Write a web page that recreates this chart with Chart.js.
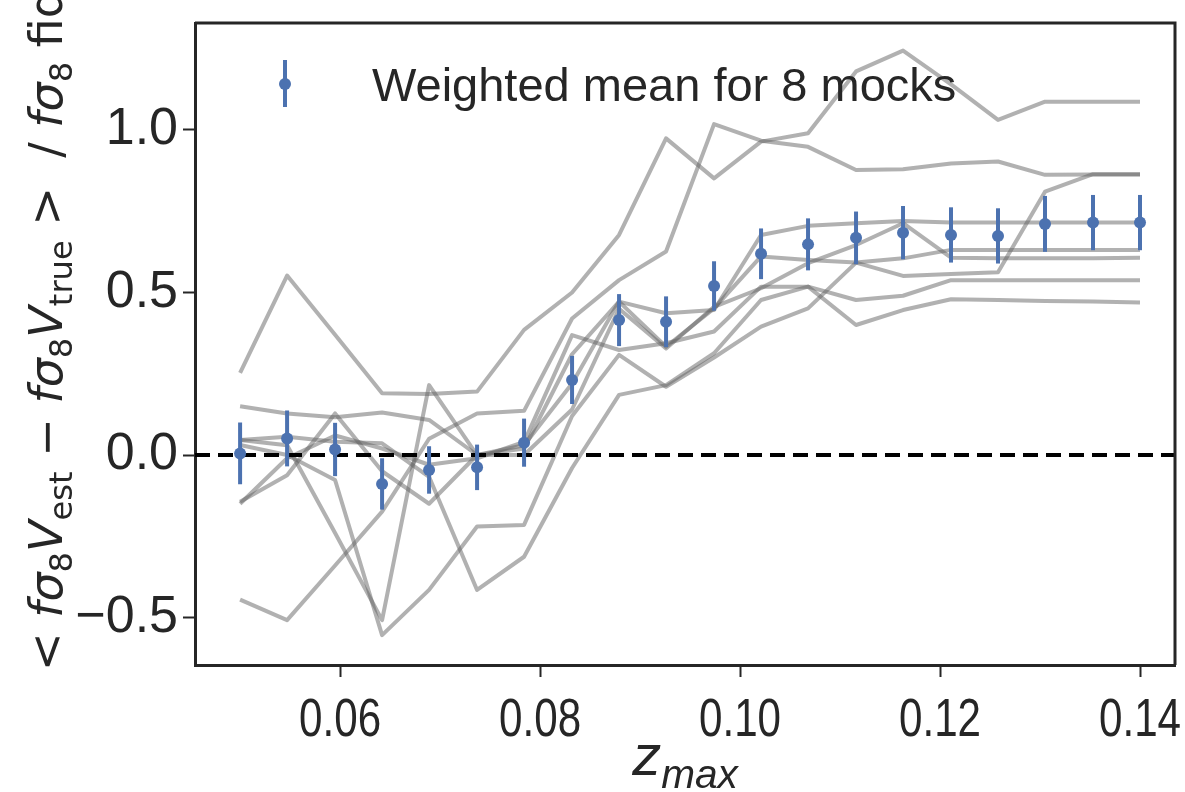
<!DOCTYPE html>
<html>
<head>
<meta charset="utf-8">
<script src="https://cdn.jsdelivr.net/npm/chart.js@4.4.0/dist/chart.umd.min.js"></script>
<style>
  html, body { margin: 0; padding: 0; background: #fff; }
  #wrap { width: 1185px; height: 792px; position: relative; }
</style>
</head>
<body>
<div id="wrap"><canvas id="chart"></canvas></div>
<script>
// z_max cuts
const zMax = [0.0500, 0.0547, 0.0595, 0.0642, 0.0689, 0.0737, 0.0784, 0.0832, 0.0879, 0.0926,
              0.0974, 0.1021, 0.1068, 0.1116, 0.1163, 0.1211, 0.1258, 0.1305, 0.1353, 0.1400];

// one curve per mock (grey lines)
const mock1 = [0.253, 0.552, 0.37, 0.19, 0.188, 0.195, 0.385, 0.50, 0.677, 0.974, 0.851, 0.964, 0.99, 1.18, 1.244, 1.14, 1.031, 1.087, 1.087, 1.087];
const mock2 = [0.15, 0.128, 0.116, 0.131, 0.108, 0.0, 0.02, 0.31, 0.472, 0.436, 0.446, 0.677, 0.705, 0.713, 0.72, 0.715, 0.715, 0.715, 0.715, 0.715];
const mock3 = [0.046, 0.03, -0.24, -0.508, 0.215, 0.0, 0.03, 0.22, 0.472, 0.333, 0.451, 0.611, 0.6, 0.592, 0.551, 0.557, 0.562, 0.81, 0.864, 0.864];
const mock4 = [-0.144, -0.062, 0.128, -0.05, -0.15, 0.0, 0.0, 0.14, 0.45, 0.328, 0.456, 0.513, 0.59, 0.646, 0.713, 0.607, 0.605, 0.605, 0.605, 0.607];
const mock5 = [-0.445, -0.508, -0.34, -0.174, 0.05, 0.128, 0.136, 0.42, 0.538, 0.626, 1.018, 0.967, 0.948, 0.877, 0.879, 0.897, 0.903, 0.862, 0.863, 0.863];
const mock6 = [0.031, 0.0, -0.077, -0.554, -0.415, -0.22, -0.215, 0.12, 0.308, 0.21, 0.3, 0.395, 0.451, 0.592, 0.605, 0.631, 0.631, 0.631, 0.631, 0.631];
const mock7 = [0.046, 0.056, 0.041, 0.036, -0.067, -0.415, -0.313, -0.04, 0.185, 0.215, 0.313, 0.477, 0.518, 0.4, 0.446, 0.479, 0.477, 0.474, 0.472, 0.469];
const mock8 = [-0.15, -0.01, 0.06, 0.02, -0.03, -0.01, 0.04, 0.369, 0.323, 0.344, 0.38, 0.518, 0.518, 0.477, 0.49, 0.538, 0.538, 0.538, 0.538, 0.538];
const mocks = [mock1, mock2, mock3, mock4, mock5, mock6, mock7, mock8];

// weighted mean and its error
const meanVals = [0.005, 0.051, 0.017, -0.089, -0.046, -0.038, 0.038, 0.231, 0.415, 0.41,
                  0.52, 0.619, 0.648, 0.668, 0.684, 0.677, 0.674, 0.711, 0.715, 0.715];
const meanErr = [0.095, 0.086, 0.082, 0.079, 0.073, 0.07, 0.074, 0.074, 0.08, 0.078,
                 0.076, 0.078, 0.08, 0.081, 0.082, 0.085, 0.085, 0.086, 0.085, 0.085];

const xTicks = [0.06, 0.08, 0.10, 0.12, 0.14];
const yTicks = [-0.5, 0.0, 0.5, 1.0];
const legendLabel = 'Weighted mean for 8 mocks';

const INK = '#262626';
const BLUE = '#4c72b0';
const GREY = 'rgba(100,100,100,0.5)';
const SANS = "'Liberation Sans', Arial, sans-serif";

// text runs with italic / subscript pieces, drawn from x0 on the current baseline
function richWidth(ctx, parts, size, fam) {
  let w = 0;
  parts.forEach(p => {
    const s = p.sub ? size * 0.7 : size;
    ctx.font = (p.it ? 'italic ' : '') + s + 'px ' + fam;
    w += ctx.measureText(p.t).width;
  });
  return w;
}
function drawRich(ctx, parts, size, fam, x0) {
  let x = x0;
  parts.forEach(p => {
    const s = p.sub ? size * 0.7 : size;
    ctx.font = (p.it ? 'italic ' : '') + s + 'px ' + fam;
    ctx.fillText(p.t, x, p.sub ? size * 0.22 : 0);
    x += ctx.measureText(p.t).width;
  });
}

const yTitle = [
  {t: '< '}, {t: 'fσ', it: true}, {t: '8', sub: true}, {t: 'V', it: true}, {t: 'est', sub: true},
  {t: ' − '}, {t: 'fσ', it: true}, {t: '8', sub: true}, {t: 'V', it: true}, {t: 'true', sub: true},
  {t: ' >  / '}, {t: 'fσ', it: true}, {t: '8', sub: true}, {t: ' fid'}
];
const xTitle = [{t: 'z', it: true}, {t: 'max', it: true, sub: true}];

const meanIndex = mocks.length;

const decorations = {
  id: 'decorations',
  beforeDatasetDraw(chart, args) {
    if (args.index !== meanIndex) return;
    const {ctx, chartArea, scales: {x, y}} = chart;
    ctx.save();
    // dashed zero line
    ctx.strokeStyle = '#000';
    ctx.lineWidth = 4;
    ctx.setLineDash([15, 8]);
    const y0 = y.getPixelForValue(0);
    ctx.beginPath();
    ctx.moveTo(chartArea.left, y0);
    ctx.lineTo(chartArea.right, y0);
    ctx.stroke();
    ctx.setLineDash([]);
    // error bars
    ctx.strokeStyle = BLUE;
    ctx.lineWidth = 4;
    zMax.forEach((z, i) => {
      const px = x.getPixelForValue(z);
      ctx.beginPath();
      ctx.moveTo(px, y.getPixelForValue(meanVals[i] - meanErr[i]));
      ctx.lineTo(px, y.getPixelForValue(meanVals[i] + meanErr[i]));
      ctx.stroke();
    });
    ctx.restore();
  },
  afterDraw(chart) {
    const {ctx, chartArea, scales: {x}} = chart;
    ctx.save();
    // top and right frame
    ctx.strokeStyle = INK;
    ctx.lineWidth = 3;
    ctx.beginPath();
    ctx.moveTo(chartArea.left, chartArea.top);
    ctx.lineTo(chartArea.right, chartArea.top);
    ctx.lineTo(chartArea.right, chartArea.bottom);
    ctx.stroke();

    // legend
    ctx.strokeStyle = BLUE;
    ctx.lineWidth = 4;
    ctx.beginPath();
    ctx.moveTo(285, 60);
    ctx.lineTo(285, 107);
    ctx.stroke();
    ctx.fillStyle = BLUE;
    ctx.beginPath();
    ctx.arc(285, 84, 6, 0, Math.PI * 2);
    ctx.fill();
    ctx.fillStyle = INK;
    ctx.textBaseline = 'alphabetic';
    ctx.textAlign = 'left';
    ctx.font = '47px ' + SANS;
    ctx.fillText(legendLabel, 372, 101);

    // x tick labels (condensed, as in the original)
    ctx.textAlign = 'center';
    ctx.font = '54px ' + SANS;
    x.ticks.forEach(t => {
      ctx.save();
      ctx.translate(x.getPixelForValue(t.value), 736);
      ctx.scale(0.78, 1);
      ctx.fillText(t.value.toFixed(2), 0, 0);
      ctx.restore();
    });
    ctx.textAlign = 'left';

    // x title
    const wx = richWidth(ctx, xTitle, 58, SANS);
    ctx.translate((chartArea.left + chartArea.right) / 2 - wx / 2, 775);
    drawRich(ctx, xTitle, 58, SANS, 0);
    ctx.restore();

    // y title
    ctx.save();
    ctx.fillStyle = INK;
    ctx.textBaseline = 'alphabetic';
    const fy = "'DejaVu Sans', sans-serif";
    const wy = richWidth(ctx, yTitle, 46, fy);
    ctx.translate(62, 330);
    ctx.rotate(-Math.PI / 2);
    drawRich(ctx, yTitle, 46, fy, -wy / 2);
    ctx.restore();
  }
};

const noPad = s => { s.paddingLeft = 0; s.paddingRight = 0; s.paddingTop = 0; s.paddingBottom = 0; };

const datasets = mocks.map((m, k) => ({
  label: 'mock ' + (k + 1),
  data: zMax.map((z, i) => ({x: z, y: m[i]})),
  borderColor: GREY,
  borderWidth: 4,
  borderJoinStyle: 'round',
  pointRadius: 0,
  fill: false,
  tension: 0,
  order: 1
}));
datasets.push({
  label: legendLabel,
  data: zMax.map((z, i) => ({x: z, y: meanVals[i]})),
  showLine: false,
  pointRadius: 6,
  pointBackgroundColor: BLUE,
  pointBorderWidth: 0,
  borderColor: BLUE,
  order: 0
});

new Chart(document.getElementById('chart').getContext('2d'), {
  type: 'line',
  data: { datasets: datasets },
  options: {
    responsive: true,
    maintainAspectRatio: false,
    animation: false,
    devicePixelRatio: 1,
    layout: { padding: { left: 0, right: 10, top: 23, bottom: 0 } },
    plugins: {
      legend: { display: false },
      tooltip: { enabled: false }
    },
    scales: {
      x: {
        type: 'linear',
        min: 0.04549,
        max: 0.1435,
        afterBuildTicks: s => { s.ticks = xTicks.map(v => ({value: v})); },
        afterFit: s => { s.height = 127; noPad(s); },
        border: { display: true, color: INK, width: 3 },
        grid: { drawOnChartArea: false, drawTicks: true, tickLength: 12, tickWidth: 2, tickColor: INK },
        ticks: { display: false }
      },
      y: {
        type: 'linear',
        min: -0.646,
        max: 1.329,
        afterBuildTicks: s => { s.ticks = yTicks.map(v => ({value: v})); },
        afterFit: s => { s.width = 195; noPad(s); },
        border: { display: true, color: INK, width: 3 },
        grid: { drawOnChartArea: false, drawTicks: true, tickLength: 12, tickWidth: 2, tickColor: INK },
        ticks: {
          color: INK,
          padding: 5,
          font: { family: SANS, size: 52 },
          callback: v => (v < 0 ? '\u2212' : '') + Math.abs(v).toFixed(1)
        }
      }
    }
  },
  plugins: [decorations]
});
</script>
</body>
</html>
